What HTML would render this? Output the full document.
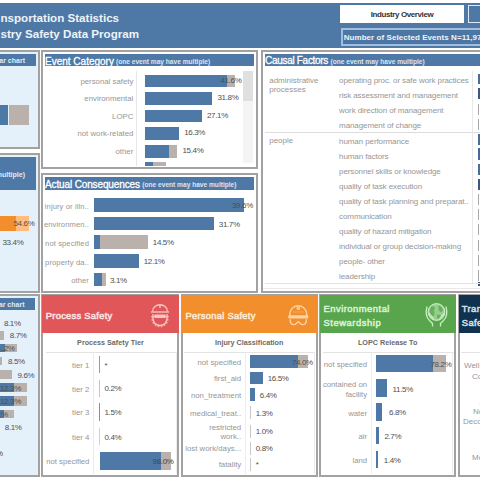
<!DOCTYPE html>
<html><head><meta charset="utf-8"><style>
html,body{margin:0;padding:0;width:480px;height:480px;overflow:hidden;background:#fff;}
body{position:relative;font-family:"Liberation Sans",sans-serif;}
body>div{position:absolute;}
.t{white-space:nowrap;}
.pnl{box-sizing:border-box;border:2px solid #a2a2a2;}
</style></head><body>
<div style="left:0px;top:0px;width:480px;height:480px;background:#ffffff;"></div>
<div style="left:0px;top:2.5px;width:480px;height:45.5px;background:#4e79a7;"></div>
<div style="left:0px;top:2.5px;width:480px;height:1.2px;background:#5b7396;"></div>
<div class="t" style="left:0.5px;top:11.14px;font-size:11.6px;line-height:13.92px;color:#eef3f8;font-weight:700;">nsportation Statistics</div>
<div class="t" style="left:0.5px;top:26.54px;font-size:11.6px;line-height:13.92px;color:#eef3f8;font-weight:700;">stry Safety Data Program</div>
<div style="left:340px;top:5px;width:124px;height:18px;background:#ffffff;"></div>
<div class="t" style="left:340.0px;width:124px;text-align:center;top:9.80px;font-size:8px;line-height:9.60px;color:#333;font-weight:700;letter-spacing:-0.4px;">Industry Overview</div>
<div style="left:468px;top:5px;width:20px;height:18px;box-sizing:border-box;border:1.5px solid #dfe9f3;background:#4e79a7"></div>
<div style="left:340.5px;top:28.2px;width:150px;height:17.8px;box-sizing:border-box;border:2px solid #a3bedd;background:#4c76a4"></div>
<div class="t" style="left:343.7px;top:33.00px;font-size:8px;line-height:9.60px;color:#eef4fa;font-weight:700;letter-spacing:0.06px;">Number of Selected Events N=11,97</div>
<div class="pnl" style="left:-3px;top:50.3px;width:43.2px;height:99.00000000000001px;background:#e4f0fa;"></div>
<div style="left:-3px;top:53.8px;width:39px;height:12.7px;background:#4e79a7;"></div>
<div class="t" style="right:455px;top:57.10px;font-size:7px;line-height:8.40px;color:#e2eaf3;font-weight:700;">bar chart</div>
<div style="left:0px;top:104.6px;width:8px;height:20.8px;background:#4e79a7;"></div>
<div style="left:9px;top:104.6px;width:19.5px;height:20.8px;background:#bab0ac;"></div>
<div class="pnl" style="left:-3px;top:152.7px;width:43.2px;height:140.0px;background:#e4f0fa;"></div>
<div style="left:-3px;top:157px;width:39px;height:32.8px;background:#4e79a7;"></div>
<div class="t" style="right:455px;top:171.40px;font-size:7px;line-height:8.40px;color:#e2eaf3;font-weight:700;">multiple)</div>
<div style="left:0px;top:216px;width:15.5px;height:15px;background:#f28e2b;"></div>
<div style="left:15.5px;top:216px;width:13.5px;height:15px;background:#ffbe7d;"></div>
<div class="t" style="left:13.5px;top:218.70px;font-size:8px;line-height:9.60px;color:#505050;font-weight:400;letter-spacing:-0.35px;">54.6%</div>
<div class="t" style="left:2.5px;top:237.70px;font-size:8px;line-height:9.60px;color:#505050;font-weight:400;letter-spacing:-0.35px;">33.4%</div>
<div class="pnl" style="left:-3px;top:293.7px;width:43.2px;height:183.40000000000003px;background:#e4f0fa;"></div>
<div style="left:-3px;top:298.2px;width:37.7px;height:11.9px;background:#4e79a7;"></div>
<div class="t" style="right:455.5px;top:301.10px;font-size:7px;line-height:8.40px;color:#e2eaf3;font-weight:700;">bar chart</div>
<div style="left:0px;top:331px;width:4.4px;height:8.8px;background:#bab0ac;"></div>
<div style="left:0px;top:343.5px;width:5px;height:8.7px;background:#4e79a7;"></div>
<div style="left:5px;top:343.5px;width:12px;height:8.7px;background:#bab0ac;"></div>
<div style="left:0px;top:357px;width:1.7px;height:8px;background:#bab0ac;"></div>
<div style="left:0px;top:370.3px;width:12px;height:8.7px;background:#bab0ac;"></div>
<div style="left:0px;top:382.5px;width:14px;height:9.5px;background:#4e79a7;"></div>
<div style="left:14px;top:382.5px;width:13.3px;height:9.5px;background:#bab0ac;"></div>
<div style="left:0px;top:396.4px;width:14px;height:9.2px;background:#4e79a7;"></div>
<div style="left:14px;top:396.4px;width:13.3px;height:9.2px;background:#bab0ac;"></div>
<div style="left:0px;top:410px;width:3.5px;height:8.2px;background:#4e79a7;"></div>
<div style="left:3.5px;top:410px;width:10.9px;height:8.2px;background:#bab0ac;"></div>
<div class="t" style="left:3.9px;top:319.00px;font-size:8px;line-height:9.60px;color:#505050;font-weight:400;letter-spacing:-0.35px;">8.1%</div>
<div class="t" style="left:9.8px;top:331.20px;font-size:8px;line-height:9.60px;color:#505050;font-weight:400;letter-spacing:-0.35px;">8.7%</div>
<div class="t" style="left:0px;top:343.80px;font-size:8px;line-height:9.60px;color:#505050;font-weight:400;letter-spacing:-0.35px;">..2%</div>
<div class="t" style="left:8px;top:357.00px;font-size:8px;line-height:9.60px;color:#505050;font-weight:400;letter-spacing:-0.35px;">8.5%</div>
<div class="t" style="left:17.5px;top:370.60px;font-size:8px;line-height:9.60px;color:#505050;font-weight:400;letter-spacing:-0.35px;">9.6%</div>
<div class="t" style="left:0px;top:383.50px;font-size:8px;line-height:9.60px;color:#505050;font-weight:400;letter-spacing:-0.35px;">12.3%</div>
<div class="t" style="left:0px;top:397.00px;font-size:8px;line-height:9.60px;color:#505050;font-weight:400;letter-spacing:-0.35px;">12.3%</div>
<div class="t" style="left:-9px;top:410.00px;font-size:8px;line-height:9.60px;color:#505050;font-weight:400;letter-spacing:-0.35px;">4.1%</div>
<div class="t" style="left:4.8px;top:423.00px;font-size:8px;line-height:9.60px;color:#505050;font-weight:400;letter-spacing:-0.35px;">8.1%</div>
<div class="t" style="left:-14px;top:448.50px;font-size:8px;line-height:9.60px;color:#505050;font-weight:400;letter-spacing:-0.35px;">1.0%</div>
<div class="pnl" style="left:40.8px;top:50.3px;width:217.2px;height:119.2px;background:#fff;"></div>
<div style="left:44.75px;top:54px;width:209.25px;height:12.3px;background:#4e79a7;"></div>
<div class="t" style="left:45px;top:55.50px;font-size:10px;line-height:12.00px;color:#fff;font-weight:400;-webkit-text-stroke:0.3px #fff;">Event Category</div>
<div class="t" style="left:116px;top:57.54px;font-size:6.6px;line-height:7.92px;color:#dbe5f0;font-weight:700;">(one event may have multiple)</div>
<div style="left:136.3px;top:71px;width:0.8px;height:95px;background:#e6e6e6;"></div>
<div style="left:242.6px;top:71.3px;width:10.7px;height:92px;background:#f4f4f4;"></div>
<div style="left:242.6px;top:71.3px;width:10.7px;height:29.4px;background:#e0e0e0;"></div>
<div class="t" style="right:346.7px;top:76.82px;font-size:7.8px;line-height:9.36px;color:#969696;font-weight:400;">personal safety</div>
<div style="left:144.6px;top:74.7px;width:82.6px;height:12.7px;background:#4e79a7;"></div>
<div style="left:227.2px;top:74.7px;width:7.800000000000011px;height:12.7px;background:#bab0ac;"></div>
<div class="t" style="left:220.5px;top:75.90px;font-size:8px;line-height:9.60px;color:#505050;font-weight:400;letter-spacing:-0.35px;">41.6%</div>
<div class="t" style="right:346.7px;top:94.32px;font-size:7.8px;line-height:9.36px;color:#969696;font-weight:400;">environmental</div>
<div style="left:144.6px;top:92.2px;width:67.4px;height:12.7px;background:#4e79a7;"></div>
<div class="t" style="left:217.5px;top:93.40px;font-size:8px;line-height:9.60px;color:#505050;font-weight:400;letter-spacing:-0.35px;">31.8%</div>
<div class="t" style="right:346.7px;top:111.72px;font-size:7.8px;line-height:9.36px;color:#969696;font-weight:400;">LOPC</div>
<div style="left:144.6px;top:109.60000000000001px;width:57.900000000000006px;height:12.7px;background:#4e79a7;"></div>
<div class="t" style="left:207px;top:110.80px;font-size:8px;line-height:9.60px;color:#505050;font-weight:400;letter-spacing:-0.35px;">27.1%</div>
<div class="t" style="right:346.7px;top:129.32px;font-size:7.8px;line-height:9.36px;color:#969696;font-weight:400;">not work-related</div>
<div style="left:144.6px;top:127.2px;width:34.20000000000002px;height:12.7px;background:#4e79a7;"></div>
<div class="t" style="left:184.2px;top:128.40px;font-size:8px;line-height:9.60px;color:#505050;font-weight:400;letter-spacing:-0.35px;">16.3%</div>
<div class="t" style="right:346.7px;top:147.12px;font-size:7.8px;line-height:9.36px;color:#969696;font-weight:400;">other</div>
<div style="left:144.6px;top:145.0px;width:24.0px;height:12.7px;background:#4e79a7;"></div>
<div style="left:168.6px;top:145.0px;width:8.0px;height:12.7px;background:#bab0ac;"></div>
<div class="t" style="left:182.5px;top:146.20px;font-size:8px;line-height:9.60px;color:#505050;font-weight:400;letter-spacing:-0.35px;">15.4%</div>
<div style="left:144.6px;top:162.3px;width:8.7px;height:3.4px;background:#4e79a7;"></div>
<div style="left:153.3px;top:162.3px;width:13.1px;height:3.4px;background:#bab0ac;"></div>
<div class="pnl" style="left:40.8px;top:173.1px;width:217.2px;height:120.1px;background:#fff;"></div>
<div style="left:44.75px;top:177.3px;width:209.25px;height:13px;background:#4e79a7;"></div>
<div class="t" style="left:45px;top:179.00px;font-size:10px;line-height:12.00px;color:#fff;font-weight:400;letter-spacing:-0.13px;-webkit-text-stroke:0.3px #fff;">Actual Consequences</div>
<div class="t" style="left:142.3px;top:181.04px;font-size:6.6px;line-height:7.92px;color:#dbe5f0;font-weight:700;">(one event may have multiple)</div>
<div class="t" style="right:391px;top:201.54px;font-size:7.6px;line-height:9.12px;color:#969696;font-weight:400;letter-spacing:0.1px;">injury or illn..</div>
<div style="left:93.9px;top:198.3px;width:150.1px;height:13.4px;background:#4e79a7;"></div>
<div class="t" style="left:232px;top:201.00px;font-size:8px;line-height:9.60px;color:#505050;font-weight:400;letter-spacing:-0.35px;">39.6%</div>
<div class="t" style="right:391px;top:220.04px;font-size:7.6px;line-height:9.12px;color:#969696;font-weight:400;letter-spacing:0.1px;">environmen..</div>
<div style="left:93.9px;top:216.8px;width:120.29999999999998px;height:13.4px;background:#4e79a7;"></div>
<div class="t" style="left:218.8px;top:219.50px;font-size:8px;line-height:9.60px;color:#505050;font-weight:400;letter-spacing:-0.35px;">31.7%</div>
<div class="t" style="right:391px;top:238.54px;font-size:7.6px;line-height:9.12px;color:#969696;font-weight:400;letter-spacing:0.1px;">not specified</div>
<div style="left:93.9px;top:235.3px;width:6.099999999999994px;height:13.4px;background:#4e79a7;"></div>
<div style="left:100px;top:235.3px;width:48.30000000000001px;height:13.4px;background:#bab0ac;"></div>
<div class="t" style="left:152.8px;top:238.00px;font-size:8px;line-height:9.60px;color:#505050;font-weight:400;letter-spacing:-0.35px;">14.5%</div>
<div class="t" style="right:391px;top:257.54px;font-size:7.6px;line-height:9.12px;color:#969696;font-weight:400;letter-spacing:0.1px;">property da..</div>
<div style="left:93.9px;top:254.3px;width:45.099999999999994px;height:13.4px;background:#4e79a7;"></div>
<div class="t" style="left:143.7px;top:257.00px;font-size:8px;line-height:9.60px;color:#505050;font-weight:400;letter-spacing:-0.35px;">12.1%</div>
<div class="t" style="right:391px;top:276.04px;font-size:7.6px;line-height:9.12px;color:#969696;font-weight:400;letter-spacing:0.1px;">other</div>
<div style="left:93.9px;top:272.8px;width:8.099999999999994px;height:13.4px;background:#4e79a7;"></div>
<div style="left:102px;top:272.8px;width:3.799999999999997px;height:13.4px;background:#bab0ac;"></div>
<div class="t" style="left:110px;top:275.50px;font-size:8px;line-height:9.60px;color:#505050;font-weight:400;letter-spacing:-0.35px;">3.1%</div>
<div class="pnl" style="left:261.3px;top:50.3px;width:228.7px;height:242.39999999999998px;background:#fff;"></div>
<div style="left:265px;top:54px;width:220px;height:12.2px;background:#4e79a7;"></div>
<div class="t" style="left:265px;top:55.30px;font-size:10px;line-height:12.00px;color:#fff;font-weight:400;letter-spacing:-0.3px;-webkit-text-stroke:0.3px #fff;">Causal Factors</div>
<div class="t" style="left:330.5px;top:57.54px;font-size:6.6px;line-height:7.92px;color:#dbe5f0;font-weight:700;">(one event may have multiple)</div>
<div style="left:265px;top:132px;width:215px;height:0.8px;background:#dddddd;"></div>
<div style="left:471.5px;top:71px;width:0.8px;height:213px;background:#e8e8e8;"></div>
<div class="t" style="left:269.2px;top:75.70px;font-size:8px;line-height:9.60px;color:#969696;font-weight:400;">administrative</div>
<div class="t" style="left:269.2px;top:85.40px;font-size:8px;line-height:9.60px;color:#969696;font-weight:400;">processes</div>
<div class="t" style="left:269.2px;top:136.20px;font-size:8px;line-height:9.60px;color:#969696;font-weight:400;">people</div>
<div class="t" style="left:339.1px;top:76.20px;font-size:8px;line-height:9.60px;color:#969696;font-weight:400;letter-spacing:-0.1px;">operating proc. or safe work practices</div>
<div class="t" style="left:339.1px;top:91.28px;font-size:8px;line-height:9.60px;color:#969696;font-weight:400;letter-spacing:-0.1px;">risk assessment and management</div>
<div class="t" style="left:339.1px;top:106.36px;font-size:8px;line-height:9.60px;color:#969696;font-weight:400;letter-spacing:-0.1px;">work direction of management</div>
<div class="t" style="left:339.1px;top:121.44px;font-size:8px;line-height:9.60px;color:#969696;font-weight:400;letter-spacing:-0.1px;">management of change</div>
<div class="t" style="left:339.1px;top:136.52px;font-size:8px;line-height:9.60px;color:#969696;font-weight:400;letter-spacing:-0.1px;">human performance</div>
<div class="t" style="left:339.1px;top:151.60px;font-size:8px;line-height:9.60px;color:#969696;font-weight:400;letter-spacing:-0.1px;">human factors</div>
<div class="t" style="left:339.1px;top:166.68px;font-size:8px;line-height:9.60px;color:#969696;font-weight:400;letter-spacing:-0.1px;">personnel skills or knowledge</div>
<div class="t" style="left:339.1px;top:181.76px;font-size:8px;line-height:9.60px;color:#969696;font-weight:400;letter-spacing:-0.1px;">quality of task execution</div>
<div class="t" style="left:339.1px;top:196.84px;font-size:8px;line-height:9.60px;color:#969696;font-weight:400;letter-spacing:-0.1px;">quality of task planning and preparat..</div>
<div class="t" style="left:339.1px;top:211.92px;font-size:8px;line-height:9.60px;color:#969696;font-weight:400;letter-spacing:-0.1px;">communication</div>
<div class="t" style="left:339.1px;top:227.00px;font-size:8px;line-height:9.60px;color:#969696;font-weight:400;letter-spacing:-0.1px;">quality of hazard mitigation</div>
<div class="t" style="left:339.1px;top:242.08px;font-size:8px;line-height:9.60px;color:#969696;font-weight:400;letter-spacing:-0.1px;">individual or group decision-making</div>
<div class="t" style="left:339.1px;top:257.16px;font-size:8px;line-height:9.60px;color:#969696;font-weight:400;letter-spacing:-0.1px;">people- other</div>
<div class="t" style="left:339.1px;top:272.24px;font-size:8px;line-height:9.60px;color:#969696;font-weight:400;letter-spacing:-0.1px;">leadership</div>
<div style="left:263.3px;top:287.8px;width:217px;height:1.2px;background:#ebe6ea;"></div>
<div style="left:477.6px;top:73.5px;width:4px;height:10.200000000000003px;background:#4a6e9a;"></div>
<div style="left:477.6px;top:88px;width:4px;height:10.799999999999997px;background:#3f5683;"></div>
<div style="left:477.6px;top:133.5px;width:4px;height:11.5px;background:#4a6e9a;"></div>
<div style="left:477.6px;top:148.3px;width:4px;height:11.699999999999989px;background:#48679a;"></div>
<div style="left:477.6px;top:164px;width:4px;height:11px;background:#4a6e9a;"></div>
<div style="left:477.6px;top:179px;width:4px;height:11px;background:#3f5683;"></div>
<div style="left:477.6px;top:104px;width:1.2px;height:11px;background:#a9a9a9;"></div>
<div style="left:477.6px;top:119px;width:1.2px;height:11px;background:#a9a9a9;"></div>
<div style="left:477.6px;top:193.5px;width:1.2px;height:11px;background:#a9a9a9;"></div>
<div style="left:477.6px;top:208.7px;width:1.2px;height:11px;background:#a9a9a9;"></div>
<div style="left:477.6px;top:223.7px;width:1.2px;height:11px;background:#a9a9a9;"></div>
<div style="left:477.6px;top:239.5px;width:1.2px;height:11px;background:#a9a9a9;"></div>
<div style="left:477.6px;top:254.7px;width:1.2px;height:11px;background:#a9a9a9;"></div>
<div style="left:477.6px;top:269.5px;width:1.2px;height:11px;background:#a9a9a9;"></div>
<div style="left:477.6px;top:282px;width:4px;height:4px;background:#3f5683;"></div>
<div style="left:265px;top:283px;width:215px;height:0.8px;background:#e3e3e3;"></div>
<div class="pnl" style="left:40.8px;top:294px;width:138.7px;height:183.10000000000002px;background:#fff;"></div>
<div style="left:41.5px;top:294.8px;width:137.5px;height:38.7px;background:#e15759;"></div>
<div class="t" style="left:45.8px;top:309.86px;font-size:9.4px;line-height:11.28px;color:#fde3e3;font-weight:400;letter-spacing:0.26px;-webkit-text-stroke:0.5px #fde3e3;">Process Safety</div>
<div class="t" style="left:60.400000000000006px;width:100px;text-align:center;top:338.98px;font-size:7.2px;line-height:8.64px;color:#6a6a6a;font-weight:700;">Process Safety Tier</div>
<div style="left:45.8px;top:351.5px;width:131px;height:0.8px;background:#e3e3e3;"></div>
<div style="left:93.4px;top:352px;width:0.8px;height:122px;background:#ececec;"></div>
<div style="left:175.5px;top:352px;width:0.8px;height:122px;background:#ececec;"></div>
<div class="t" style="right:390.6px;top:360.82px;font-size:7.8px;line-height:9.36px;color:#969696;font-weight:400;">tier 1</div>
<div style="left:99px;top:355.8px;width:1.1px;height:17.5px;background:#9a9a9a;"></div>
<div class="t" style="left:104.5px;top:360.70px;font-size:8px;line-height:9.60px;color:#505050;font-weight:400;letter-spacing:-0.35px;">*</div>
<div class="t" style="right:390.6px;top:384.52px;font-size:7.8px;line-height:9.36px;color:#969696;font-weight:400;">tier 2</div>
<div style="left:99px;top:379.5px;width:1.1px;height:17.5px;background:#c4c4c4;"></div>
<div class="t" style="left:104.5px;top:384.40px;font-size:8px;line-height:9.60px;color:#505050;font-weight:400;letter-spacing:-0.35px;">0.2%</div>
<div class="t" style="right:390.6px;top:408.22px;font-size:7.8px;line-height:9.36px;color:#969696;font-weight:400;">tier 3</div>
<div style="left:99px;top:403.2px;width:1.1px;height:17.5px;background:#8f8f8f;"></div>
<div class="t" style="left:104.5px;top:408.10px;font-size:8px;line-height:9.60px;color:#505050;font-weight:400;letter-spacing:-0.35px;">1.5%</div>
<div class="t" style="right:390.6px;top:432.72px;font-size:7.8px;line-height:9.36px;color:#969696;font-weight:400;">tier 4</div>
<div style="left:99px;top:427.7px;width:1.1px;height:17.5px;background:#cfcfcf;"></div>
<div class="t" style="left:104.5px;top:432.60px;font-size:8px;line-height:9.60px;color:#505050;font-weight:400;letter-spacing:-0.35px;">0.4%</div>
<div class="t" style="right:390.6px;top:456.88px;font-size:7.7px;line-height:9.24px;color:#969696;font-weight:400;">not specified</div>
<div style="left:99.5px;top:452px;width:61px;height:17.8px;background:#4e79a7;"></div>
<div style="left:160.5px;top:452px;width:10px;height:17.8px;background:#bab0ac;"></div>
<div class="t" style="left:152.6px;top:456.70px;font-size:8px;line-height:9.60px;color:#444;font-weight:400;letter-spacing:-0.35px;">98.0%</div>
<div class="pnl" style="left:180.7px;top:294px;width:137.3px;height:183.10000000000002px;background:#fff;"></div>
<div style="left:181.5px;top:294.8px;width:135.8px;height:38.7px;background:#f28e2b;"></div>
<div class="t" style="left:185.5px;top:309.86px;font-size:9.4px;line-height:11.28px;color:#fdebd8;font-weight:400;letter-spacing:0.26px;-webkit-text-stroke:0.5px #fdebd8;">Personal Safety</div>
<div class="t" style="left:199.2px;width:100px;text-align:center;top:338.88px;font-size:7.2px;line-height:8.64px;color:#6a6a6a;font-weight:700;">Injury Classification</div>
<div style="left:184px;top:351.5px;width:131px;height:0.8px;background:#e3e3e3;"></div>
<div style="left:244.7px;top:352px;width:0.8px;height:122px;background:#eeeeee;"></div>
<div style="left:313.7px;top:352px;width:0.8px;height:122px;background:#ececec;"></div>
<div class="t" style="right:238.8px;top:357.82px;font-size:7.8px;line-height:9.36px;color:#969696;font-weight:400;">not specified</div>
<div style="left:250.2px;top:355.4px;width:48.10000000000002px;height:12.2px;background:#4e79a7;"></div>
<div style="left:298.3px;top:355.4px;width:9.300000000000011px;height:12.2px;background:#bab0ac;"></div>
<div class="t" style="left:291.9px;top:357.70px;font-size:8px;line-height:9.60px;color:#505050;font-weight:400;letter-spacing:-0.35px;">74.0%</div>
<div class="t" style="right:238.8px;top:373.92px;font-size:7.8px;line-height:9.36px;color:#969696;font-weight:400;">first_aid</div>
<div style="left:250.2px;top:371.5px;width:12.5px;height:12.2px;background:#4e79a7;"></div>
<div class="t" style="left:267.7px;top:373.80px;font-size:8px;line-height:9.60px;color:#505050;font-weight:400;letter-spacing:-0.35px;">16.5%</div>
<div class="t" style="right:238.8px;top:390.92px;font-size:7.8px;line-height:9.36px;color:#969696;font-weight:400;">non_treatment</div>
<div style="left:250.2px;top:388.1px;width:4.400000000000006px;height:13px;background:#4e79a7;"></div>
<div class="t" style="left:259.8px;top:390.80px;font-size:8px;line-height:9.60px;color:#505050;font-weight:400;letter-spacing:-0.35px;">6.4%</div>
<div class="t" style="right:238.8px;top:408.62px;font-size:7.8px;line-height:9.36px;color:#969696;font-weight:400;">medical_treat..</div>
<div style="left:250.2px;top:405.8px;width:0.8000000000000114px;height:13px;background:#c8c8c8;"></div>
<div class="t" style="left:255.7px;top:408.50px;font-size:8px;line-height:9.60px;color:#505050;font-weight:400;letter-spacing:-0.35px;">1.3%</div>
<div style="left:250.2px;top:424.5px;width:0.8000000000000114px;height:13px;background:#c8c8c8;"></div>
<div class="t" style="left:255.7px;top:427.20px;font-size:8px;line-height:9.60px;color:#505050;font-weight:400;letter-spacing:-0.35px;">1.0%</div>
<div class="t" style="right:238.8px;top:444.32px;font-size:7.8px;line-height:9.36px;color:#969696;font-weight:400;">lost work/days...</div>
<div style="left:250.2px;top:441.5px;width:0.8000000000000114px;height:13px;background:#c8c8c8;"></div>
<div class="t" style="left:255.7px;top:444.20px;font-size:8px;line-height:9.60px;color:#505050;font-weight:400;letter-spacing:-0.35px;">0.8%</div>
<div class="t" style="right:238.8px;top:460.32px;font-size:7.8px;line-height:9.36px;color:#969696;font-weight:400;">fatality</div>
<div style="left:250.2px;top:457.5px;width:0.8000000000000114px;height:13px;background:#c8c8c8;"></div>
<div class="t" style="left:255.7px;top:460.20px;font-size:8px;line-height:9.60px;color:#505050;font-weight:400;letter-spacing:-0.35px;">*</div>
<div class="t" style="right:238.8px;top:422.82px;font-size:7.8px;line-height:9.36px;color:#969696;font-weight:400;">restricted</div>
<div class="t" style="right:238.8px;top:431.52px;font-size:7.8px;line-height:9.36px;color:#969696;font-weight:400;">work..</div>
<div class="pnl" style="left:319px;top:294px;width:137.3px;height:183.10000000000002px;background:#fff;"></div>
<div style="left:319.8px;top:294.8px;width:135.8px;height:38.7px;background:#58a54e;"></div>
<div class="t" style="left:323.5px;top:303.06px;font-size:9.4px;line-height:11.28px;color:#dcf2d4;font-weight:400;letter-spacing:0.5px;-webkit-text-stroke:0.5px #dcf2d4;">Environmental</div>
<div class="t" style="left:323.5px;top:317.06px;font-size:9.4px;line-height:11.28px;color:#dcf2d4;font-weight:400;letter-spacing:0.55px;-webkit-text-stroke:0.5px #dcf2d4;">Stewardship</div>
<div class="t" style="left:337.7px;width:100px;text-align:center;top:338.88px;font-size:7.2px;line-height:8.64px;color:#6a6a6a;font-weight:700;">LOPC Release To</div>
<div style="left:323px;top:351.5px;width:131px;height:0.8px;background:#e3e3e3;"></div>
<div style="left:370.5px;top:352px;width:0.8px;height:122px;background:#eeeeee;"></div>
<div style="left:452.2px;top:352px;width:0.8px;height:122px;background:#ececec;"></div>
<div class="t" style="right:113px;top:359.98px;font-size:7.7px;line-height:9.24px;color:#969696;font-weight:400;">not specified</div>
<div style="left:376.3px;top:354.6px;width:57.099999999999966px;height:17.4px;background:#4e79a7;"></div>
<div style="left:433.4px;top:354.6px;width:12.200000000000045px;height:17.4px;background:#bab0ac;"></div>
<div class="t" style="left:430.5px;top:359.80px;font-size:8px;line-height:9.60px;color:#505050;font-weight:400;letter-spacing:-0.35px;">78.2%</div>
<div style="left:376.3px;top:379.40000000000003px;width:10.399999999999977px;height:17.4px;background:#4e79a7;"></div>
<div class="t" style="left:392.6px;top:384.60px;font-size:8px;line-height:9.60px;color:#505050;font-weight:400;letter-spacing:-0.35px;">11.5%</div>
<div class="t" style="right:113px;top:408.58px;font-size:7.7px;line-height:9.24px;color:#969696;font-weight:400;">water</div>
<div style="left:376.3px;top:403.2px;width:6.099999999999966px;height:17.4px;background:#4e79a7;"></div>
<div class="t" style="left:389px;top:408.40px;font-size:8px;line-height:9.60px;color:#505050;font-weight:400;letter-spacing:-0.35px;">6.8%</div>
<div class="t" style="right:113px;top:432.28px;font-size:7.7px;line-height:9.24px;color:#969696;font-weight:400;">air</div>
<div style="left:376.3px;top:426.90000000000003px;width:3.1999999999999886px;height:17.4px;background:#4e79a7;"></div>
<div class="t" style="left:384.4px;top:432.10px;font-size:8px;line-height:9.60px;color:#505050;font-weight:400;letter-spacing:-0.35px;">2.7%</div>
<div class="t" style="right:113px;top:456.18px;font-size:7.7px;line-height:9.24px;color:#969696;font-weight:400;">land</div>
<div style="left:376.3px;top:450.8px;width:1.6999999999999886px;height:17.4px;background:#4e79a7;"></div>
<div class="t" style="left:383.8px;top:456.00px;font-size:8px;line-height:9.60px;color:#505050;font-weight:400;letter-spacing:-0.35px;">1.4%</div>
<div class="t" style="right:113px;top:380.38px;font-size:7.7px;line-height:9.24px;color:#969696;font-weight:400;">contained on</div>
<div class="t" style="right:113px;top:389.58px;font-size:7.7px;line-height:9.24px;color:#969696;font-weight:400;">facility</div>
<div class="pnl" style="left:458px;top:294px;width:32px;height:183.10000000000002px;background:#fff;"></div>
<div style="left:458.8px;top:294.8px;width:30px;height:38.7px;background:#11324f;"></div>
<div class="t" style="left:461.8px;top:303.36px;font-size:9.4px;line-height:11.28px;color:#d5e0ea;font-weight:400;letter-spacing:0.4px;-webkit-text-stroke:0.5px #d5e0ea;">Transportation</div>
<div class="t" style="left:461.8px;top:316.76px;font-size:9.4px;line-height:11.28px;color:#d5e0ea;font-weight:400;letter-spacing:0.4px;-webkit-text-stroke:0.5px #d5e0ea;">Safety</div>
<div style="left:461px;top:351.5px;width:25px;height:0.8px;background:#e3e3e3;"></div>
<div class="t" style="left:464px;top:360.90px;font-size:8px;line-height:9.60px;color:#969696;font-weight:400;">Well</div>
<div class="t" style="left:472px;top:371.60px;font-size:8px;line-height:9.60px;color:#969696;font-weight:400;">Co</div>
<div class="t" style="left:479px;top:397.90px;font-size:8px;line-height:9.60px;color:#969696;font-weight:400;">.</div>
<div class="t" style="left:473px;top:406.60px;font-size:8px;line-height:9.60px;color:#969696;font-weight:400;">No</div>
<div class="t" style="left:463px;top:417.40px;font-size:8px;line-height:9.60px;color:#969696;font-weight:400;">Deco</div>
<div class="t" style="left:472px;top:453.20px;font-size:8px;line-height:9.60px;color:#969696;font-weight:400;">Mo</div>
<svg style="position:absolute;left:0;top:0" width="480" height="480" viewBox="0 0 480 480">
<g fill="none" stroke="#f9c6c6" stroke-width="1.3">
<path d="M152.5,311.5 C152.5,302.5 167.5,302.5 167.5,311.5"/>
<path d="M151,312 H169"/>
<path d="M160,304 V308"/>
<path d="M153,314 C152,323 156,325.5 160,325.5 C164,325.5 168,323 167,314"/>
</g>
<path d="M152.5,316 C152,323.5 156,326 160,326 C164,326 168,323.5 167.5,316" fill="none" stroke="#f9c6c6" stroke-width="2.6" stroke-dasharray="1.6 1.4" opacity="0.7"/>
<rect x="154" y="314.5" width="12" height="3.5" rx="1.5" fill="#f9c6c6"/>
<g fill="none" stroke="#fdd3a3" stroke-width="1.4">
<path d="M289.8,316 C289.5,309.5 293.5,305.6 298.2,305.6 C303,305.6 307,309.5 306.8,316"/>
<path d="M290.2,319.2 C290,323 291.5,324.6 294,324.6 C296.5,324.6 297,322.2 298.3,321.6 C299.6,322.2 300.1,324.6 302.6,324.6 C305.1,324.6 306.6,323 306.4,319.2"/>
</g>
<path d="M296.3,306.3 L300.3,306.3 L299.8,310 L296.8,310 Z" fill="#fdd3a3" opacity="0.8"/>
<path d="M292.5,312 H304" stroke="#fdd3a3" stroke-width="0.8" opacity="0.5"/>
<rect x="288.3" y="315.3" width="20" height="3.3" rx="1" fill="#fdd3a3"/>
<circle cx="436.5" cy="312" r="8.3" fill="#c9eec1" opacity="0.55"/>
<circle cx="436.5" cy="312" r="8.3" fill="none" stroke="#c9eec1" stroke-width="1.2"/>
<path d="M431,306.5 C433,305.5 436,307 434.5,309.5 C433,311.5 435.5,313 434,315.5 C432,317 430,314 429.5,311 Z M438.5,305.5 C441,306 443.5,308.5 442.5,311 C441,313 439,311.5 438.5,309 Z M437,315 C439.5,314 442.5,316 441,318.5 C439.5,320 437,319 437,317 Z" fill="#58a54e" opacity="0.75"/>
<g fill="none" stroke="#c9eec1" stroke-width="1.3" stroke-linejoin="round">
<path d="M427,306.5 C425.5,312 426,317 429.5,320.5 L432.5,323.5 V326.5"/>
<path d="M446,306.5 C447.5,312 447,317 443.5,320.5 L440.5,323.5 V326.5"/>
<path d="M428.5,313 C430.5,315.5 432.5,317 434,320"/>
<path d="M444.5,313 C442.5,315.5 440.5,317 439,320"/>
</g>
</svg>
</body></html>
